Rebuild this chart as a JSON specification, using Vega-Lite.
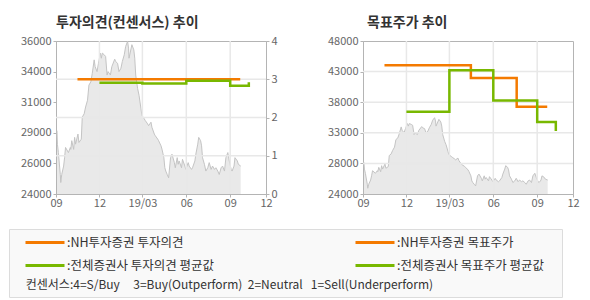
{
  "$schema": "https://vega.github.io/schema/vega-lite/v6.json",
  "padding": {"left": 8, "top": 15, "right": 5, "bottom": 0},
  "background": "#ffffff",
  "datasets": {
    "price": [
      {"date": "2018-09-03", "price": 28970}, {"date": "2018-09-04", "price": 27900}, {"date": "2018-09-06", "price": 27250},
      {"date": "2018-09-10", "price": 25530}, {"date": "2018-09-11", "price": 24900}, {"date": "2018-09-13", "price": 25530},
      {"date": "2018-09-17", "price": 26190}, {"date": "2018-09-19", "price": 26850}, {"date": "2018-09-21", "price": 27650},
      {"date": "2018-09-27", "price": 27250}, {"date": "2018-10-01", "price": 27650}, {"date": "2018-10-02", "price": 27500},
      {"date": "2018-10-04", "price": 28180}, {"date": "2018-10-08", "price": 27500}, {"date": "2018-10-10", "price": 28440},
      {"date": "2018-10-12", "price": 27910}, {"date": "2018-10-17", "price": 28700}, {"date": "2018-10-19", "price": 28040},
      {"date": "2018-10-24", "price": 28300}, {"date": "2018-10-26", "price": 30030}, {"date": "2018-10-30", "price": 30290},
      {"date": "2018-11-02", "price": 30820}, {"date": "2018-11-06", "price": 31350}, {"date": "2018-11-09", "price": 32540},
      {"date": "2018-11-13", "price": 32800}, {"date": "2018-11-16", "price": 33460}, {"date": "2018-11-20", "price": 34520},
      {"date": "2018-11-22", "price": 33990}, {"date": "2018-11-26", "price": 33600}, {"date": "2018-11-29", "price": 34250},
      {"date": "2018-12-03", "price": 35050}, {"date": "2018-12-05", "price": 34650}, {"date": "2018-12-07", "price": 35050},
      {"date": "2018-12-11", "price": 34920}, {"date": "2018-12-14", "price": 34780}, {"date": "2018-12-17", "price": 33330},
      {"date": "2018-12-19", "price": 33600}, {"date": "2018-12-24", "price": 33330}, {"date": "2018-12-27", "price": 33990},
      {"date": "2019-01-02", "price": 34570}, {"date": "2019-01-04", "price": 34390}, {"date": "2019-01-08", "price": 34250},
      {"date": "2019-01-11", "price": 33600}, {"date": "2019-01-15", "price": 33860}, {"date": "2019-01-18", "price": 34390},
      {"date": "2019-01-22", "price": 34920}, {"date": "2019-01-25", "price": 35580}, {"date": "2019-01-29", "price": 35970},
      {"date": "2019-01-31", "price": 35440}, {"date": "2019-02-01", "price": 34650}, {"date": "2019-02-07", "price": 35710},
      {"date": "2019-02-11", "price": 35310}, {"date": "2019-02-13", "price": 34650}, {"date": "2019-02-15", "price": 33330},
      {"date": "2019-02-19", "price": 32270}, {"date": "2019-02-22", "price": 31740}, {"date": "2019-02-26", "price": 30690},
      {"date": "2019-02-28", "price": 30160}, {"date": "2019-03-05", "price": 29890}, {"date": "2019-03-07", "price": 29760},
      {"date": "2019-03-12", "price": 29500}, {"date": "2019-03-14", "price": 29360}, {"date": "2019-03-19", "price": 29630},
      {"date": "2019-03-21", "price": 29230}, {"date": "2019-03-26", "price": 28700}, {"date": "2019-03-28", "price": 28570},
      {"date": "2019-04-02", "price": 28310}, {"date": "2019-04-04", "price": 28180}, {"date": "2019-04-09", "price": 27780},
      {"date": "2019-04-11", "price": 27520}, {"date": "2019-04-15", "price": 26850}, {"date": "2019-04-17", "price": 26060},
      {"date": "2019-04-19", "price": 25800}, {"date": "2019-04-22", "price": 25530}, {"date": "2019-04-25", "price": 25270},
      {"date": "2019-04-29", "price": 26850}, {"date": "2019-05-02", "price": 27120}, {"date": "2019-05-07", "price": 26460},
      {"date": "2019-05-09", "price": 26060}, {"date": "2019-05-13", "price": 26850}, {"date": "2019-05-15", "price": 26330},
      {"date": "2019-05-17", "price": 26590}, {"date": "2019-05-22", "price": 26060}, {"date": "2019-05-24", "price": 26720},
      {"date": "2019-05-29", "price": 26190}, {"date": "2019-05-31", "price": 25930}, {"date": "2019-06-05", "price": 26460},
      {"date": "2019-06-07", "price": 26190}, {"date": "2019-06-12", "price": 25930}, {"date": "2019-06-14", "price": 26060},
      {"date": "2019-06-19", "price": 26590}, {"date": "2019-06-21", "price": 27120}, {"date": "2019-06-25", "price": 27910},
      {"date": "2019-06-27", "price": 28440}, {"date": "2019-07-01", "price": 28180}, {"date": "2019-07-03", "price": 27780},
      {"date": "2019-07-05", "price": 26850}, {"date": "2019-07-09", "price": 26330}, {"date": "2019-07-12", "price": 25800},
      {"date": "2019-07-16", "price": 26060}, {"date": "2019-07-19", "price": 26460}, {"date": "2019-07-23", "price": 25930},
      {"date": "2019-07-26", "price": 26190}, {"date": "2019-07-30", "price": 25930}, {"date": "2019-08-02", "price": 26060},
      {"date": "2019-08-06", "price": 25800}, {"date": "2019-08-09", "price": 25530}, {"date": "2019-08-13", "price": 26060},
      {"date": "2019-08-16", "price": 26190}, {"date": "2019-08-20", "price": 25800}, {"date": "2019-08-23", "price": 26850},
      {"date": "2019-08-27", "price": 27250}, {"date": "2019-08-30", "price": 26590}, {"date": "2019-09-03", "price": 25930},
      {"date": "2019-09-05", "price": 25800}, {"date": "2019-09-09", "price": 26190}, {"date": "2019-09-11", "price": 26850},
      {"date": "2019-09-16", "price": 26590}, {"date": "2019-09-18", "price": 26330}, {"date": "2019-09-23", "price": 26190}
    ],
    "op": [
      {"date": "2018-10-16", "v": 3, "series": "NH투자증권 투자의견"},
      {"date": "2019-09-22", "v": 3, "series": "NH투자증권 투자의견"},
      {"date": "2018-12-01", "v": 2.91, "series": "전체증권사 투자의견 평균값"},
      {"date": "2019-03-01", "v": 2.89, "series": "전체증권사 투자의견 평균값"},
      {"date": "2019-06-01", "v": 2.96, "series": "전체증권사 투자의견 평균값"},
      {"date": "2019-09-01", "v": 2.83, "series": "전체증권사 투자의견 평균값"},
      {"date": "2019-10-10", "v": 2.92, "series": "전체증권사 투자의견 평균값"}
    ],
    "tp": [
      {"date": "2018-10-16", "v": 44200, "series": "NH투자증권 목표주가"},
      {"date": "2019-04-15", "v": 42200, "series": "NH투자증권 목표주가"},
      {"date": "2019-07-20", "v": 37700, "series": "NH투자증권 목표주가"},
      {"date": "2019-09-22", "v": 37700, "series": "NH투자증권 목표주가"},
      {"date": "2018-12-01", "v": 36900, "series": "전체증권사 목표주가 평균값"},
      {"date": "2019-03-01", "v": 43400, "series": "전체증권사 목표주가 평균값"},
      {"date": "2019-06-01", "v": 38650, "series": "전체증권사 목표주가 평균값"},
      {"date": "2019-09-01", "v": 35300, "series": "전체증권사 목표주가 평균값"},
      {"date": "2019-10-10", "v": 33900, "series": "전체증권사 목표주가 평균값"}
    ],
    "vgrid": [{"date": "2018-12-01"}, {"date": "2019-03-01"}, {"date": "2019-06-01"}, {"date": "2019-09-01"}],
    "hgridL": [{"v": 1}, {"v": 2}, {"v": 3}],
    "hgridR": [{"v": 28800}, {"v": 33600}, {"v": 38400}, {"v": 43200}]
  },
  "hconcat": [
    {
      "title": {"text": "투자의견(컨센서스) 추이"},
      "width": 210,
      "height": 153,
      "layer": [
        {
          "data": {"name": "price"},
          "mark": {"type": "area", "color": "#e0e0e0", "clip": true, "line": {"color": "#c4c4c4", "strokeWidth": 1, "clip": true}},
          "encoding": {
            "x": {"field": "date", "type": "temporal", "scale": {"type": "utc", "domain": [{"year": 2018, "month": 9, "date": 1, "utc": true}, {"year": 2019, "month": 11, "date": 15, "utc": true}]}, "axis": {"values": [{"year": 2018, "month": 9, "date": 1, "utc": true}, {"year": 2018, "month": 12, "date": 1, "utc": true}, {"year": 2019, "month": 3, "date": 1, "utc": true}, {"year": 2019, "month": 6, "date": 1, "utc": true}, {"year": 2019, "month": 9, "date": 1, "utc": true}, {"year": 2019, "month": 11, "date": 15, "utc": true}], "labelExpr": "utcFormat(datum.value,'%m')=='11' ? '12' : (utcFormat(datum.value,'%m')=='03' ? '19/03' : utcFormat(datum.value,'%m'))", "labelFlush": false, "labelPadding": 0}},
            "y": {"field": "price", "type": "quantitative", "scale": {"domain": [24000, 36000], "zero": false, "nice": false}, "axis": {"orient": "left", "values": [24000, 26400, 28800, 31200, 33600, 36000], "labelExpr": "format(round(datum.value/1000)*1000, 'd')", "minExtent": 33, "maxExtent": 33}}
          }
        },
        {
          "layer": [
            {
              "data": {"name": "vgrid"},
              "mark": {"type": "rule", "color": "#e8e8e8", "strokeWidth": 1.5},
              "encoding": {
                "x": {"field": "date", "type": "temporal", "scale": {"type": "utc", "domain": [{"year": 2018, "month": 9, "date": 1, "utc": true}, {"year": 2019, "month": 11, "date": 15, "utc": true}]}, "axis": {"values": [{"year": 2018, "month": 9, "date": 1, "utc": true}, {"year": 2018, "month": 12, "date": 1, "utc": true}, {"year": 2019, "month": 3, "date": 1, "utc": true}, {"year": 2019, "month": 6, "date": 1, "utc": true}, {"year": 2019, "month": 9, "date": 1, "utc": true}, {"year": 2019, "month": 11, "date": 15, "utc": true}], "labelExpr": "utcFormat(datum.value,'%m')=='11' ? '12' : (utcFormat(datum.value,'%m')=='03' ? '19/03' : utcFormat(datum.value,'%m'))", "labelFlush": false, "labelPadding": 0}}
              }
            },
            {
              "data": {"name": "hgridL"},
              "mark": {"type": "rule", "color": "#e8e8e8", "strokeWidth": 1.5},
              "encoding": {
                "y": {"field": "v", "type": "quantitative", "scale": {"domain": [0, 4], "nice": false}, "axis": {"orient": "right", "values": [0, 1, 2, 3, 4], "format": "d", "minExtent": 12, "maxExtent": 12}}
              }
            },
            {
              "data": {"name": "op"},
              "mark": {"type": "line", "interpolate": "step-after", "strokeWidth": 2.5},
              "encoding": {
                "x": {"field": "date", "type": "temporal", "scale": {"type": "utc", "domain": [{"year": 2018, "month": 9, "date": 1, "utc": true}, {"year": 2019, "month": 11, "date": 15, "utc": true}]}, "axis": {"values": [{"year": 2018, "month": 9, "date": 1, "utc": true}, {"year": 2018, "month": 12, "date": 1, "utc": true}, {"year": 2019, "month": 3, "date": 1, "utc": true}, {"year": 2019, "month": 6, "date": 1, "utc": true}, {"year": 2019, "month": 9, "date": 1, "utc": true}, {"year": 2019, "month": 11, "date": 15, "utc": true}], "labelExpr": "utcFormat(datum.value,'%m')=='11' ? '12' : (utcFormat(datum.value,'%m')=='03' ? '19/03' : utcFormat(datum.value,'%m'))", "labelFlush": false, "labelPadding": 0}},
                "y": {"field": "v", "type": "quantitative", "scale": {"domain": [0, 4], "nice": false}, "axis": {"orient": "right", "values": [0, 1, 2, 3, 4], "format": "d", "minExtent": 12, "maxExtent": 12}},
                "color": {
                  "field": "series", "type": "nominal",
                  "scale": {"domain": ["NH투자증권 투자의견", "전체증권사 투자의견 평균값", "NH투자증권 목표주가", "전체증권사 목표주가 평균값"], "range": ["#f47a00", "#78b800", "#f47a00", "#78b800"]},
                  "legend": {
                    "orient": "none", "legendX": -47, "legendY": 188,
                    "columns": 2,
                    "symbolType": "stroke", "symbolSize": 1521, "symbolStrokeWidth": 3, "symbolOffset": 9,
                    "labelOffset": 1, "labelFontSize": 12.5, "labelColor": "#333333", "labelLimit": 400,
                    "labelExpr": "':' + datum.label + (indexof(datum.label, '목표주가') >= 0 ? '\u00a0\u00a0\u00a0\u00a0\u200b' : '')",
                    "clipHeight": 15, "rowPadding": 8, "columnPadding": 130,
                    "padding": 6, "fillColor": "#f9f9f9", "strokeColor": "#dcdcdc",
                    "title": "\u200b\u00a0\u00a0\u00a0\u00a0컨센서스:4=S/Buy\u00a0\u00a0\u00a0\u00a0\u00a03=Buy(Outperform)\u00a0\u00a02=Neutral\u00a0\u00a0\u00a01=Sell(Underperform)",
                    "titleOrient": "bottom", "titleAnchor": "start", "titleFontWeight": "normal", "titleFontSize": 12, "titleColor": "#333333", "titleLimit": 700, "titlePadding": 7
                  }
                }
              }
            }
          ]
        }
      ],
      "resolve": {"scale": {"y": "independent"}, "axis": {"y": "independent"}}
    },
    {
      "title": {"text": "목표주가 추이", "dx": 4},
      "width": 210,
      "height": 153,
      "layer": [
        {
          "data": {"name": "price"},
          "mark": {"type": "area", "color": "#e0e0e0", "clip": true, "line": {"color": "#c4c4c4", "strokeWidth": 1, "clip": true}},
          "encoding": {
            "x": {"field": "date", "type": "temporal", "scale": {"type": "utc", "domain": [{"year": 2018, "month": 9, "date": 1, "utc": true}, {"year": 2019, "month": 11, "date": 15, "utc": true}]}, "axis": {"values": [{"year": 2018, "month": 9, "date": 1, "utc": true}, {"year": 2018, "month": 12, "date": 1, "utc": true}, {"year": 2019, "month": 3, "date": 1, "utc": true}, {"year": 2019, "month": 6, "date": 1, "utc": true}, {"year": 2019, "month": 9, "date": 1, "utc": true}, {"year": 2019, "month": 11, "date": 15, "utc": true}], "labelExpr": "utcFormat(datum.value,'%m')=='11' ? '12' : (utcFormat(datum.value,'%m')=='03' ? '19/03' : utcFormat(datum.value,'%m'))", "labelFlush": false, "labelPadding": 0}},
            "y": {"field": "price", "type": "quantitative", "scale": {"domain": [24000, 48000], "zero": false, "nice": false}, "axis": {"orient": "left", "values": [24000, 28800, 33600, 38400, 43200, 48000], "labelExpr": "format(floor(datum.value/1000)*1000, 'd')", "minExtent": 33, "maxExtent": 33}}
          }
        },
        {
          "data": {"name": "vgrid"},
          "mark": {"type": "rule", "color": "#e8e8e8", "strokeWidth": 1.5},
          "encoding": {
            "x": {"field": "date", "type": "temporal", "scale": {"type": "utc", "domain": [{"year": 2018, "month": 9, "date": 1, "utc": true}, {"year": 2019, "month": 11, "date": 15, "utc": true}]}, "axis": {"values": [{"year": 2018, "month": 9, "date": 1, "utc": true}, {"year": 2018, "month": 12, "date": 1, "utc": true}, {"year": 2019, "month": 3, "date": 1, "utc": true}, {"year": 2019, "month": 6, "date": 1, "utc": true}, {"year": 2019, "month": 9, "date": 1, "utc": true}, {"year": 2019, "month": 11, "date": 15, "utc": true}], "labelExpr": "utcFormat(datum.value,'%m')=='11' ? '12' : (utcFormat(datum.value,'%m')=='03' ? '19/03' : utcFormat(datum.value,'%m'))", "labelFlush": false, "labelPadding": 0}}
          }
        },
        {
          "data": {"name": "hgridR"},
          "mark": {"type": "rule", "color": "#e8e8e8", "strokeWidth": 1.5},
          "encoding": {
            "y": {"field": "v", "type": "quantitative", "scale": {"domain": [24000, 48000], "zero": false, "nice": false}, "axis": {"orient": "left", "values": [24000, 28800, 33600, 38400, 43200, 48000], "labelExpr": "format(floor(datum.value/1000)*1000, 'd')", "minExtent": 33, "maxExtent": 33}}
          }
        },
        {
          "data": {"name": "tp"},
          "mark": {"type": "line", "interpolate": "step-after", "strokeWidth": 2.5},
          "encoding": {
            "x": {"field": "date", "type": "temporal", "scale": {"type": "utc", "domain": [{"year": 2018, "month": 9, "date": 1, "utc": true}, {"year": 2019, "month": 11, "date": 15, "utc": true}]}, "axis": {"values": [{"year": 2018, "month": 9, "date": 1, "utc": true}, {"year": 2018, "month": 12, "date": 1, "utc": true}, {"year": 2019, "month": 3, "date": 1, "utc": true}, {"year": 2019, "month": 6, "date": 1, "utc": true}, {"year": 2019, "month": 9, "date": 1, "utc": true}, {"year": 2019, "month": 11, "date": 15, "utc": true}], "labelExpr": "utcFormat(datum.value,'%m')=='11' ? '12' : (utcFormat(datum.value,'%m')=='03' ? '19/03' : utcFormat(datum.value,'%m'))", "labelFlush": false, "labelPadding": 0}},
            "y": {"field": "v", "type": "quantitative", "scale": {"domain": [24000, 48000], "zero": false, "nice": false}, "axis": {"orient": "left", "values": [24000, 28800, 33600, 38400, 43200, 48000], "labelExpr": "format(floor(datum.value/1000)*1000, 'd')", "minExtent": 33, "maxExtent": 33}},
            "color": {
              "field": "series", "type": "nominal",
              "scale": {"domain": ["NH투자증권 투자의견", "전체증권사 투자의견 평균값", "NH투자증권 목표주가", "전체증권사 목표주가 평균값"], "range": ["#f47a00", "#78b800", "#f47a00", "#78b800"]}
            }
          }
        }
      ]
    }
  ],
  "spacing": 47,
  "config": {
    "font": "Noto Sans CJK KR",
    "view": {"stroke": "#b4b4b4", "strokeWidth": 1},
    "axis": {"domainColor": "#b4b4b4", "tickColor": "#b4b4b4", "tickSize": 3, "labelColor": "#666666", "labelFontSize": 11, "labelPadding": 2, "grid": false, "title": null, "labelFont": "Noto Sans CJK KR"},
    "title": {"anchor": "start", "frame": "group", "fontSize": 14, "fontWeight": "bold", "color": "#333333", "offset": 5, "font": "Noto Sans CJK KR"},
    "legend": {"labelFont": "Noto Sans CJK KR", "titleFont": "Noto Sans CJK KR"}
  }
}
